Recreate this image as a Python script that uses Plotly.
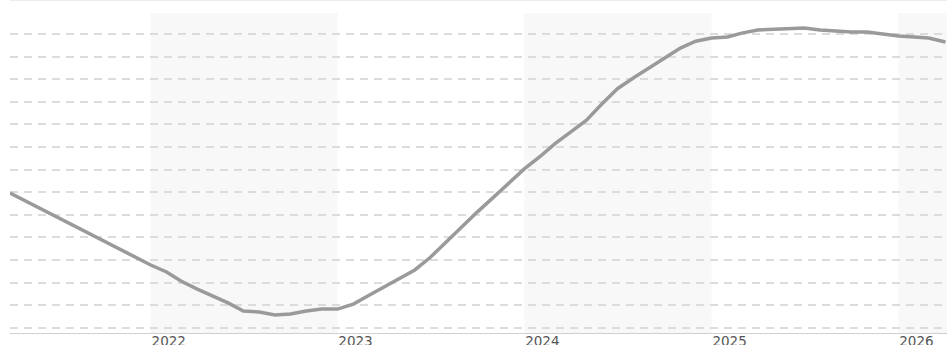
import plotly.graph_objects as go

# ---- data ----
months = [
    "2021-04-01", "2021-05-01", "2021-06-01", "2021-07-01", "2021-08-01", "2021-09-01",
    "2021-10-01", "2021-11-01", "2021-12-01", "2022-01-01", "2022-02-01", "2022-03-01",
    "2022-04-01", "2022-05-01", "2022-06-01", "2022-07-01", "2022-08-01", "2022-09-01",
    "2022-10-01", "2022-11-01", "2022-12-01", "2023-01-01", "2023-02-01", "2023-03-01",
    "2023-04-01", "2023-05-01", "2023-06-01", "2023-07-01", "2023-08-01", "2023-09-01",
    "2023-10-01", "2023-11-01", "2023-12-01", "2024-01-01", "2024-02-01", "2024-03-01",
    "2024-04-01", "2024-05-01", "2024-06-01", "2024-07-01", "2024-08-01", "2024-09-01",
    "2024-10-01", "2024-11-01", "2024-12-01", "2025-01-01", "2025-02-01", "2025-03-01",
    "2025-04-01", "2025-05-01", "2025-06-01", "2025-07-01", "2025-08-01", "2025-09-01",
    "2025-10-01", "2025-11-01", "2025-12-01", "2026-01-01", "2026-02-01", "2026-03-01",
    "2026-04-03",
]
values = [
    5.96, 5.61, 5.26, 4.90, 4.55, 4.19,
    3.84, 3.49, 3.13, 2.78, 2.47, 2.07,
    1.72, 1.41, 1.10, 0.74, 0.70, 0.57,
    0.61, 0.74, 0.83, 0.83, 1.05, 1.41,
    1.81, 2.16, 2.56, 3.11, 3.80, 4.46,
    5.12, 5.76, 6.39, 7.03, 7.58, 8.15,
    8.67, 9.18, 9.91, 10.58, 11.05, 11.51,
    11.95, 12.38, 12.68, 12.82, 12.87, 13.04,
    13.18, 13.22, 13.24, 13.27, 13.18, 13.13,
    13.09, 13.09, 13.00, 12.91, 12.87, 12.82,
    12.65,
]
tick_dates = ["2022-01-01", "2023-01-01", "2024-01-01", "2025-01-01", "2026-01-01"]
tick_labels = ["2022", "2023", "2024", "2025", "2026"]
band_starts = ["2022-01-01", "2024-01-01", "2026-01-01"]
band_ends = ["2023-01-01", "2025-01-01", "2026-04-06"]

x_range = ["2021-04-01", "2026-04-06"]
y_range = [-0.23, 13.93]

fig = go.Figure()
fig.add_trace(go.Scatter(
    x=months, y=values, mode="lines",
    line=dict(color="#9a9a9a", width=3.5),
    hoverinfo="skip", showlegend=False,
))

shapes = []
for s, e in zip(band_starts, band_ends):
    shapes.append(dict(type="rect", xref="x", yref="paper", x0=s, x1=e, y0=0, y1=1,
                       fillcolor="rgba(244,244,244,0.66)", line=dict(width=0),
                       layer="between"))
shapes.append(dict(type="line", xref="paper", yref="paper", x0=0, x1=1,
                   y0=1 + 12.5 / 320, y1=1 + 12.5 / 320,
                   line=dict(color="#ececec", width=1)))

fig.update_layout(
    width=947, height=345,
    margin=dict(l=10, r=0, t=13, b=12, autoexpand=False),
    paper_bgcolor="white", plot_bgcolor="white",
    shapes=shapes,
    showlegend=False,
    font=dict(family="DejaVu Sans", size=13, color="#555555"),
)
fig.update_xaxes(
    range=x_range, type="date", automargin=False,
    tickmode="array", tickvals=tick_dates, ticktext=tick_labels,
    ticks="", showgrid=False, zeroline=False,
    showline=True, linecolor="#d0d0d0", linewidth=1,
    ticklabelshift=18, ticklabelstandoff=-4,
    tickfont=dict(family="DejaVu Sans", size=13.5, color="#555555"),
)
fig.update_yaxes(
    range=y_range, tickmode="linear", tick0=0, dtick=1, automargin=False,
    showticklabels=False, ticks="", zeroline=False, showline=False,
    showgrid=True, gridcolor="#dcdcdc", gridwidth=1.5, griddash="8px,6px",
)

fig.write_html(
    "out.html",
    config={"displayModeBar": False},
    post_script="document.body.style.margin='0px';document.body.style.overflow='hidden';",
)
